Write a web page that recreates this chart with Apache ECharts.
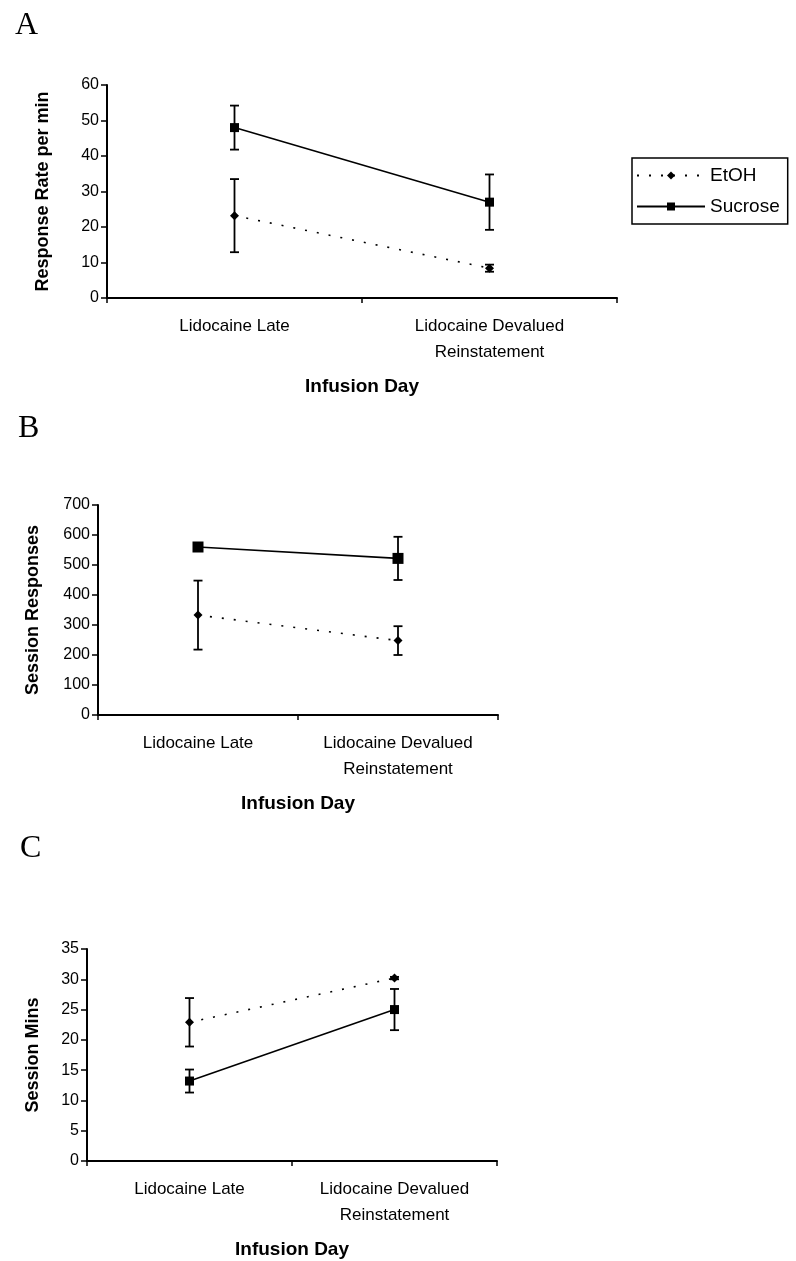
<!DOCTYPE html>
<html>
<head>
<meta charset="utf-8">
<script src="https://cdn.jsdelivr.net/npm/echarts@6/dist/echarts.min.js"></script>
<style>
    html, body { margin: 0; padding: 0; background: #fff; }
    #main { width: 796px; height: 1261px; }
</style>
</head>
<body>
<div id="main"></div>
<script>
// 数据
var categories = ['Lidocaine Late', 'Lidocaine Devalued\nReinstatement'];

// A: Response Rate per min
var rateEtOH = [23.2, 8.4];
var rateEtOHErr = [10.3, 1.0];
var rateSucrose = [48.0, 27.0];
var rateSucroseErr = [6.2, 7.8];

// B: Session Responses
var respEtOH = [333, 248];
var respEtOHErr = [115, 48];
var respSucrose = [560, 522];
var respSucroseErr = [8, 72];

// C: Session Mins
var minsEtOH = [22.9, 30.2];
var minsEtOHErr = [4.0, 0.2];
var minsSucrose = [13.2, 25.0];
var minsSucroseErr = [1.9, 3.4];

var yTicksA = { min: 0, max: 60, interval: 10 };
var yTicksB = { min: 0, max: 700, interval: 100 };
var yTicksC = { min: 0, max: 35, interval: 5 };

var FONT = '"Liberation Sans", Arial, sans-serif';
var SERIF = '"Liberation Serif", serif';

//误差线数据：[类别, 下限, 上限]
function errData(vals, errs) {
    var out = [];
    for (var i = 0; i < vals.length; i++) {
        out.push([i, vals[i] - errs[i], vals[i] + errs[i]]);
    }
    return out;
}

function renderErr(params, api) {
    var lo = api.coord([api.value(0), api.value(1)]);
    var hi = api.coord([api.value(0), api.value(2)]);
    var cap = 4.5;
    var style = { stroke: '#000', lineWidth: 1.8 };
    return {
        type: 'group',
        children: [
            { type: 'line', shape: { x1: lo[0], y1: lo[1], x2: hi[0], y2: hi[1] }, style: style },
            { type: 'line', shape: { x1: lo[0] - cap, y1: lo[1], x2: lo[0] + cap, y2: lo[1] }, style: style },
            { type: 'line', shape: { x1: hi[0] - cap, y1: hi[1], x2: hi[0] + cap, y2: hi[1] }, style: style }
        ]
    };
}

var grids = [
    { left: 107, top: 85, width: 510, height: 213 },
    { left: 98, top: 505, width: 400, height: 210 },
    { left: 87, top: 949, width: 410, height: 212 }
];
var yNames = ['Response Rate per min', 'Session Responses', 'Session Mins'];
var yNameGaps = [55, 56, 45];
var yTicks = [yTicksA, yTicksB, yTicksC];
var etohData = [rateEtOH, respEtOH, minsEtOH];
var etohErr = [rateEtOHErr, respEtOHErr, minsEtOHErr];
var sucData = [rateSucrose, respSucrose, minsSucrose];
var sucErr = [rateSucroseErr, respSucroseErr, minsSucroseErr];

var xAxes = [], yAxes = [], series = [];
for (var g = 0; g < 3; g++) {
    xAxes.push({
        type: 'category',
        gridIndex: g,
        data: categories,
        boundaryGap: true,
        name: 'Infusion Day',
        nameLocation: 'middle',
        nameGap: 79,
        nameTextStyle: { fontFamily: FONT, fontWeight: 'bold', fontSize: 19, color: '#000' },
        axisLine: { lineStyle: { color: '#000', width: 2 } },
        axisTick: { show: true, length: 5, lineStyle: { color: '#000', width: 1.5 } },
        axisLabel: { fontFamily: FONT, fontSize: 17, color: '#000', lineHeight: 26, margin: 15 }
    });
    yAxes.push({
        type: 'value',
        gridIndex: g,
        min: yTicks[g].min,
        max: yTicks[g].max,
        interval: yTicks[g].interval,
        name: yNames[g],
        nameLocation: 'middle',
        nameGap: yNameGaps[g],
        nameTextStyle: { fontFamily: FONT, fontWeight: 'bold', fontSize: 18, color: '#000' },
        axisLine: { show: true, lineStyle: { color: '#000', width: 2 } },
        axisTick: { show: true, length: 6, lineStyle: { color: '#000', width: 1.5 } },
        axisLabel: { fontFamily: FONT, fontSize: 16, color: '#000', margin: 8 },
        splitLine: { show: false }
    });
    series.push({
        name: 'EtOH',
        type: 'line',
        xAxisIndex: g,
        yAxisIndex: g,
        data: etohData[g],
        symbol: 'diamond',
        symbolSize: 9,
        itemStyle: { color: '#000' },
        lineStyle: { color: '#000', width: 1.6, type: [2, 10] },
        animation: false
    });
    series.push({
        name: 'Sucrose',
        type: 'line',
        xAxisIndex: g,
        yAxisIndex: g,
        data: sucData[g],
        symbol: 'rect',
        symbolSize: g === 1 ? [11, 11] : 9,
        itemStyle: { color: '#000' },
        lineStyle: { color: '#000', width: 1.6 },
        animation: false
    });
    series.push({
        type: 'custom',
        xAxisIndex: g,
        yAxisIndex: g,
        data: errData(etohData[g], etohErr[g]),
        renderItem: renderErr,
        z: 5,
        animation: false
    });
    series.push({
        type: 'custom',
        xAxisIndex: g,
        yAxisIndex: g,
        data: errData(sucData[g], sucErr[g]),
        renderItem: renderErr,
        z: 5,
        animation: false
    });
}

var option = {
    backgroundColor: '#fff',
    animation: false,
    title: [
        { text: 'A', left: 10, top: 5, textStyle: { fontFamily: SERIF, fontWeight: 'normal', fontSize: 32, color: '#000' } },
        { text: 'B', left: 13, top: 408, textStyle: { fontFamily: SERIF, fontWeight: 'normal', fontSize: 32, color: '#000' } },
        { text: 'C', left: 15, top: 828, textStyle: { fontFamily: SERIF, fontWeight: 'normal', fontSize: 32, color: '#000' } }
    ],
    legend: {
        data: ['EtOH', 'Sucrose'],
        orient: 'vertical',
        left: 632,
        top: 158,
        padding: [8, 8, 8, 4],
        itemGap: 12,
        itemWidth: 68,
        itemHeight: 10,
        borderColor: '#000',
        borderWidth: 1.5,
        borderRadius: 0,
        textStyle: { fontFamily: FONT, fontSize: 19, color: '#000' }
    },
    grid: grids,
    xAxis: xAxes,
    yAxis: yAxes,
    series: series
};

var myChart = echarts.init(document.getElementById('main'));
myChart.setOption(option);
</script>
</body>
</html>
